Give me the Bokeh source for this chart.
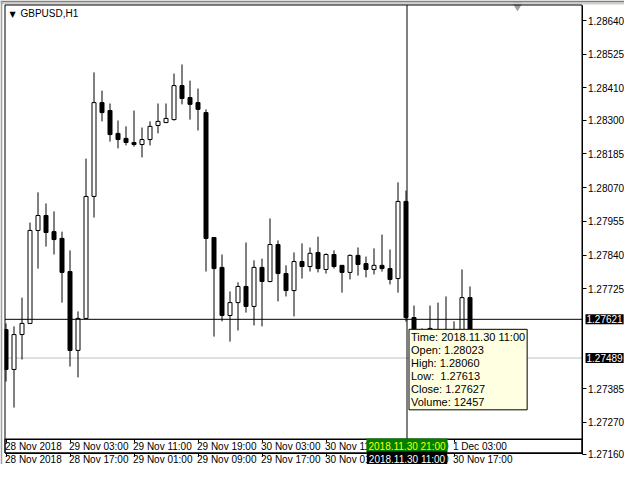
from bokeh.plotting import figure
from bokeh.models import (Range1d, FixedTicker, Label, ColumnDataSource,
                          PrintfTickFormatter, LinearAxis)
from bokeh.embed import file_html
from bokeh.resources import INLINE

symbol = "GBPUSD,H1"

opens = [1.27586, 1.27450, 1.27569, 1.27607, 1.27924, 1.27975, 1.27920, 1.27897, 1.27784, 1.27515,
         1.27624, 1.28040, 1.28360, 1.28333, 1.28255, 1.28238, 1.28224, 1.28217, 1.28234, 1.28282,
         1.28292, 1.28302, 1.28418, 1.28377, 1.28360, 1.28326, 1.27900, 1.27798, 1.27634, 1.27678,
         1.27733, 1.27665, 1.27798, 1.27750, 1.27876, 1.27777, 1.27719, 1.27818, 1.27801, 1.27849,
         1.27791, 1.27842, 1.27805, 1.27781, 1.27839, 1.27811, 1.27791, 1.27805, 1.27794, 1.27760,
         1.28023, 1.27627, 1.27555, 1.27520, 1.27560, 1.27570, 1.27580, 1.27560, 1.27695]
highs = [1.27607, 1.27597, 1.27695, 1.27951, 1.28054, 1.28016, 1.27989, 1.27920, 1.27856, 1.27648,
         1.28169, 1.28463, 1.28401, 1.28357, 1.28299, 1.28279, 1.28333, 1.28275, 1.28296, 1.28357,
         1.28357, 1.28459, 1.28490, 1.28435, 1.28408, 1.28337, 1.27900, 1.27842, 1.27716, 1.27747,
         1.27883, 1.27822, 1.27828, 1.27965, 1.27890, 1.27805, 1.27849, 1.27880, 1.27866, 1.27903,
         1.27846, 1.27856, 1.27805, 1.27842, 1.27866, 1.27835, 1.27863, 1.27910, 1.27859, 1.28088,
         1.28060, 1.27668, 1.27590, 1.27668, 1.27678, 1.27699, 1.27614, 1.27791, 1.27733]
lows = [1.27409, 1.27320, 1.27484, 1.27605, 1.27794, 1.27869, 1.27842, 1.27678, 1.27460, 1.27423,
        1.27622, 1.27968, 1.28296, 1.28227, 1.28204, 1.28214, 1.28210, 1.28173, 1.28214, 1.28255,
        1.28290, 1.28299, 1.28354, 1.28302, 1.28265, 1.27784, 1.27562, 1.27614, 1.27545, 1.27583,
        1.27644, 1.27600, 1.27597, 1.27747, 1.27682, 1.27699, 1.27631, 1.27760, 1.27784, 1.27781,
        1.27777, 1.27794, 1.27712, 1.27757, 1.27770, 1.27764, 1.27774, 1.27784, 1.27740, 1.27712,
        1.27613, 1.27520, 1.27480, 1.27500, 1.27540, 1.27550, 1.27540, 1.27540, 1.27470]
closes = [1.27450, 1.27569, 1.27607, 1.27924, 1.27975, 1.27917, 1.27893, 1.27781, 1.27515, 1.27624,
          1.28040, 1.28360, 1.28326, 1.28251, 1.28234, 1.28224, 1.28217, 1.28234, 1.28279, 1.28296,
          1.28306, 1.28418, 1.28374, 1.28354, 1.28337, 1.27897, 1.27794, 1.27634, 1.27678, 1.27733,
          1.27665, 1.27798, 1.27750, 1.27876, 1.27777, 1.27719, 1.27818, 1.27801, 1.27846, 1.27794,
          1.27842, 1.27801, 1.27781, 1.27839, 1.27808, 1.27791, 1.27805, 1.27794, 1.27757, 1.28023,
          1.27627, 1.27555, 1.27520, 1.27590, 1.27575, 1.27585, 1.27560, 1.27695, 1.27489]

price_ticks = [1.28640, 1.28525, 1.28410, 1.28300, 1.28185, 1.28070, 1.27955, 1.27840,
               1.27725, 1.27385, 1.27270, 1.27160]
time_tick_idx = [0, 8, 16, 24, 32, 40, 48, 56]
time_labels_upper = ["28 Nov 2018", "29 Nov 03:00", "29 Nov 11:00", "29 Nov 19:00",
                     "30 Nov 03:00", "30 Nov 11:00", "30 Nov 19:00", "1 Dec 03:00"]
time_labels_lower = ["28 Nov 2018", "28 Nov 17:00", "29 Nov 01:00", "29 Nov 09:00",
                     "29 Nov 17:00", "30 Nov 01:00", "30 Nov 09:00", "30 Nov 17:00"]

cursor_idx = 50.125
cursor_price = 1.27621
bid_price = 1.27489
cursor_time_upper = "2018.11.30 21:00"
cursor_time_lower = "2018.11.30 11:00"
tooltip_lines = ["Time: 2018.11.30 11:00", "Open: 1.28023", "High: 1.28060",
                 "Low:\u00a0 1.27613", "Close: 1.27627", "Volume: 12457"]

FONT = "Liberation Sans"
W, H = 624, 464            # the frame fills the whole canvas
BAR_PX = 8.0               # one hourly bar every 8 px
PX_PER_PRICE = 29324.3     # vertical scale of the price axis


def px2x(px):
    return (px - 5.5) / BAR_PX


def px2p(py):
    return 1.28640 - (py - 20.0) / PX_PER_PRICE


# chart area (inside the canvas)
CL, CR, CT, CB = 4.5, 581.5, 4.5, 452.5     # border lines
BAND_TOP = 438.5                              # upper time scale band

p = figure(frame_width=W, frame_height=H,
           x_range=Range1d(px2x(0), px2x(W)), y_range=Range1d(px2p(H), px2p(0)),
           output_backend="svg", toolbar_location=None,
           x_axis_location=None, y_axis_location=None,
           min_border_left=0, min_border_top=0, min_border_right=0, min_border_bottom=0)
p.grid.visible = False
p.outline_line_color = None
p.background_fill_color = "white"
p.border_fill_color = "white"

# bid line (behind candles)
p.segment(x0=[px2x(CL)], x1=[px2x(CR)], y0=[bid_price], y1=[bid_price],
          line_color="#C0C0C0", line_width=1, level="underlay")

# candles
n = len(opens)
idx = list(range(n))
up = [closes[i] >= opens[i] for i in idx]
src = ColumnDataSource(dict(
    x=idx, high=highs, low=lows,
    top=[max(opens[i], closes[i]) for i in idx],
    bottom=[min(opens[i], closes[i]) for i in idx],
    fill=["white" if up[i] else "black" for i in idx],
))
p.segment(x0="x", y0="low", x1="x", y1="high", source=src, line_color="black", line_width=1)
p.vbar(x="x", width=0.5, top="top", bottom="bottom", source=src,
       fill_color="fill", line_color="black", line_width=1)

# chart-shift marker, then window chrome over its upper half
p.scatter(x=[px2x(517)], y=[px2p(5)], marker="inverted_triangle", size=9,
          fill_color="#A0A0A0", line_color="#A0A0A0")
p.quad(left=[px2x(0)], right=[px2x(W)], top=[px2p(0)], bottom=[px2p(2)],
       fill_color="#808080", line_color=None)
p.quad(left=[px2x(0)], right=[px2x(W)], top=[px2p(2)], bottom=[px2p(4)],
       fill_color="#D4D0C8", line_color=None)
p.quad(left=[px2x(0)], right=[px2x(2)], top=[px2p(0)], bottom=[px2p(H)],
       fill_color="#A0A0A0", line_color=None)
p.quad(left=[px2x(2)], right=[px2x(4)], top=[px2p(4)], bottom=[px2p(H)],
       fill_color="white", line_color=None)

# upper time scale band and chart border
p.quad(left=[px2x(CL)], right=[px2x(CR)], top=[px2p(BAND_TOP)], bottom=[px2p(CB)],
       fill_color="white", line_color="black", line_width=1)
p.quad(left=[px2x(CL)], right=[px2x(CR)], top=[px2p(CT)], bottom=[px2p(CB)],
       fill_color=None, line_color="black", line_width=1)

# crosshair
p.segment(x0=[cursor_idx], x1=[cursor_idx], y0=[px2p(CT)], y1=[px2p(H)],
          line_color="black", line_width=1)
p.segment(x0=[px2x(CL)], x1=[px2x(CR)], y0=[cursor_price], y1=[cursor_price],
          line_color="black", line_width=1)

# price axis on the right edge of the chart
ya = LinearAxis(fixed_location=px2x(CR), bounds=(min(price_ticks), px2p(CT)))
ya.ticker = FixedTicker(ticks=price_ticks)
ya.formatter = PrintfTickFormatter(format="%.5f")
ya.major_tick_out = 4
ya.major_tick_in = 0
ya.minor_tick_out = 0
ya.minor_tick_in = 0
ya.major_label_standoff = 2
ya.major_label_text_font = FONT
ya.major_label_text_font_size = "10px"
ya.major_label_text_color = "black"
ya.axis_line_color = "black"
ya.major_tick_line_color = "black"
p.add_layout(ya, "right")

# two time scales (tick marks), labels drawn left aligned next to the ticks
for loc in (BAND_TOP, CB):
    xa = LinearAxis(fixed_location=px2p(loc), bounds=(px2x(CL), px2x(CR)))
    xa.ticker = FixedTicker(ticks=time_tick_idx)
    xa.major_tick_out = 3
    xa.major_tick_in = 0
    xa.minor_tick_out = 0
    xa.minor_tick_in = 0
    xa.major_label_text_font_size = "1px"
    xa.major_label_text_color = None
    xa.axis_line_color = "black"
    xa.major_tick_line_color = "black"
    p.add_layout(xa, "below")

UPPER_Y = H - 446      # screen units, from the bottom of the canvas
LOWER_Y = H - 458.5
for t, lab_u, lab_l in zip(time_tick_idx, time_labels_upper, time_labels_lower):
    p.add_layout(Label(x=t, y=UPPER_Y, x_units="data", y_units="screen", text=lab_u,
                       text_font=FONT, text_font_size="10px", text_align="left",
                       text_baseline="middle", x_offset=-1, text_color="black"))
    p.add_layout(Label(x=t, y=LOWER_Y, x_units="data", y_units="screen", text=lab_l,
                       text_font=FONT, text_font_size="10px", text_align="left",
                       text_baseline="middle", x_offset=-1, text_color="black"))

# symbol caption
p.add_layout(Label(x=12, y=H - 13.5, x_units="screen", y_units="screen", text="\u25bc",
                   text_font="DejaVu Sans", text_font_size="8px", text_align="center",
                   text_baseline="middle", text_color="black"))
p.add_layout(Label(x=20, y=H - 13, x_units="screen", y_units="screen", text=symbol,
                   text_font=FONT, text_font_size="10px", text_align="left",
                   text_baseline="middle", text_color="black"))

# cursor time labels
p.add_layout(Label(x=cursor_idx, y=H - 445.5, x_units="data", y_units="screen",
                   text=cursor_time_upper, text_font=FONT, text_font_size="10px",
                   text_align="center", text_baseline="middle", text_color="#FFFF00",
                   background_fill_color="#008000", padding=2))
p.add_layout(Label(x=cursor_idx, y=LOWER_Y, x_units="data", y_units="screen",
                   text=cursor_time_lower, text_font=FONT, text_font_size="10px",
                   text_align="center", text_baseline="middle", text_color="white",
                   background_fill_color="black", padding=2))

# price highlight labels
for pr in (cursor_price, bid_price):
    p.add_layout(Label(x=585, y=pr, x_units="screen", y_units="data", text="%.5f" % pr,
                       text_font=FONT, text_font_size="10px", text_align="left",
                       text_baseline="middle", text_color="white",
                       background_fill_color="black", padding=1))

# tooltip with shadow
tip = "\n".join(tooltip_lines)
p.add_layout(Label(x=cursor_idx, y=cursor_price, x_units="data", y_units="data", text=tip,
                   text_font=FONT, text_font_size="11px", text_align="left",
                   text_baseline="top", text_line_height=1.075, x_offset=4, y_offset=-12,
                   text_alpha=0.0, background_fill_color="#808080", padding=2))
p.add_layout(Label(x=cursor_idx, y=cursor_price, x_units="data", y_units="data", text=tip,
                   text_font=FONT, text_font_size="11px", text_align="left",
                   text_baseline="top", text_line_height=1.075, x_offset=2, y_offset=-10,
                   text_color="black", background_fill_color="#FFFFE1",
                   border_line_color="black", padding=2))

open("out.html", "w").write(file_html(p, INLINE))
